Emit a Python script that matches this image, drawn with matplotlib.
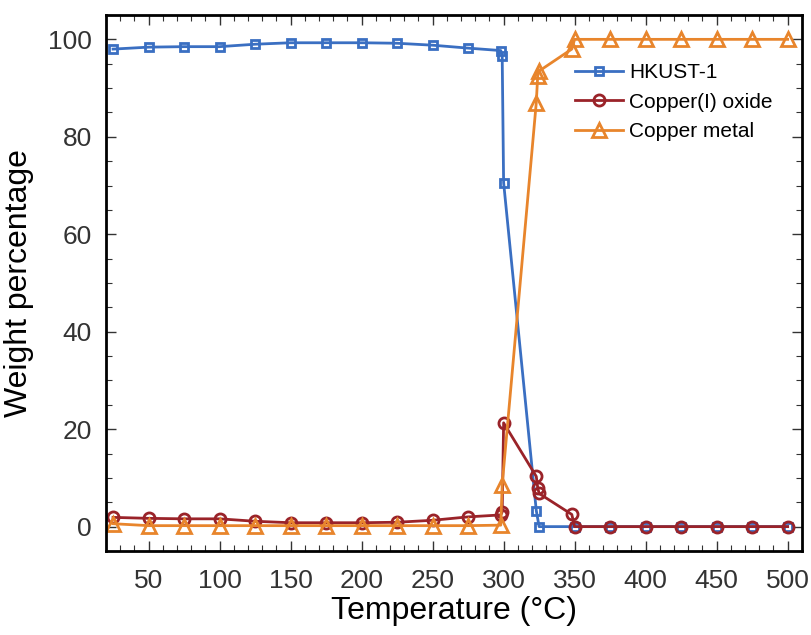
import matplotlib
matplotlib.use("Agg")

import matplotlib.pyplot as plt
from matplotlib.ticker import MultipleLocator

plt.rcParams["font.family"] = ["Liberation Sans", "DejaVu Sans"]

# temperatures (deg C)
temp_low = [25, 50, 75, 100, 125, 150, 175, 200, 225, 250, 275]
temp_high = [375, 400, 425, 450, 475, 500]

hkust_t = temp_low + [298, 299, 300, 323, 325, 350] + temp_high
hkust = [98.0, 98.4, 98.5, 98.5, 99.0, 99.3, 99.3, 99.3, 99.2, 98.8, 98.2,
         97.7, 96.6, 70.6, 3.3, 0.0, 0.0] + [0.0] * 6

oxide_t = temp_low + [298, 299, 300, 323, 324, 325, 348, 350] + temp_high
oxide = [1.9, 1.7, 1.6, 1.6, 1.1, 0.8, 0.8, 0.8, 0.9, 1.3, 2.0,
         2.4, 3.0, 21.3, 10.3, 8.0, 6.8, 2.5, 0.0] + [0.0] * 6

metal_t = temp_low + [298, 299, 323, 324, 325, 348, 350] + temp_high
metal = [0.6, 0.2, 0.2, 0.2, 0.2, 0.2, 0.2, 0.2, 0.2, 0.2, 0.2,
         0.3, 8.6, 87.0, 92.5, 93.5, 98.0, 100.0] + [100.0] * 6

blue = "#3a6fc2"
red = "#9a2329"
orange = "#e8852c"

fig = plt.figure(figsize=(8.12, 6.35), dpi=100)
ax = fig.add_axes([0.1305, 0.1323, 0.857, 0.8441])

ax.plot(hkust_t, hkust, color=blue, lw=2, marker="s", ms=5.5,
        mfc="none", mew=2, label="HKUST-1")
ax.plot(oxide_t, oxide, color=red, lw=2, marker="o", ms=8,
        mfc="none", mew=2, label="Copper(I) oxide")
ax.plot(metal_t, metal, color=orange, lw=2, marker="^", ms=10,
        mfc="none", mew=2, label="Copper metal")

ax.set_xlim(20, 510)
ax.set_ylim(-5, 105)
ax.xaxis.set_major_locator(MultipleLocator(50))
ax.xaxis.set_minor_locator(MultipleLocator(10))
ax.yaxis.set_major_locator(MultipleLocator(20))
ax.yaxis.set_minor_locator(MultipleLocator(5))

ax.tick_params(which="both", direction="in", top=True, right=True,
               colors="#333333", labelsize=19)
ax.tick_params(which="major", length=7, width=1)
ax.tick_params(which="minor", length=4, width=0.8)
ax.tick_params(axis="x", pad=13)
ax.tick_params(axis="y", pad=10)
for s in ax.spines.values():
    s.set_linewidth(2)
    s.set_color("black")

ax.set_xlabel("Temperature (°C)", fontsize=23, labelpad=2)
ax.set_ylabel("Weight percentage", fontsize=23, labelpad=10)

ax.legend(loc="upper right", bbox_to_anchor=(0.985, 0.945), frameon=False,
          fontsize=15, handlelength=2.3, labelspacing=0.5, handletextpad=0.3)

fig.savefig("out.png", dpi=100)
